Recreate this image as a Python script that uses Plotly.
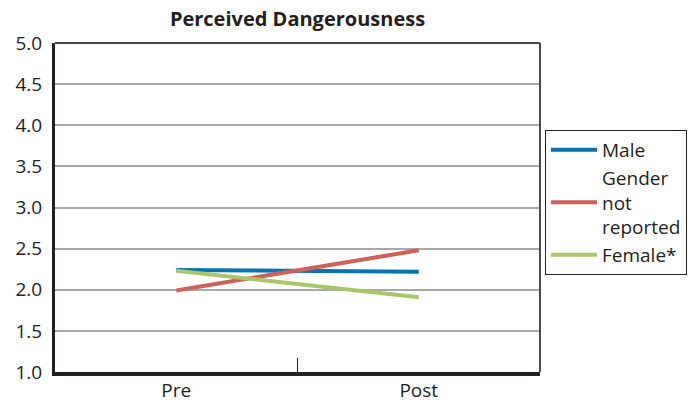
import plotly.graph_objects as go

categories = ["Pre", "Post"]
series_names = ["Male", "Gender<br>not<br>reported", "Female*"]
male = [2.24, 2.22]
not_reported = [1.99, 2.48]
female = [2.23, 1.91]
colors = ["#0a74ae", "#d0605a", "#a9c76a"]
y_ticks = [1.0, 1.5, 2.0, 2.5, 3.0, 3.5, 4.0, 4.5, 5.0]

font = "Open Sans"
fig = go.Figure()
for name, vals, c in zip(series_names, [male, not_reported, female], colors):
    fig.add_trace(go.Scatter(x=categories, y=vals, mode="lines", name=name,
                             line=dict(color=c, width=4)))

fig.update_layout(
    width=699, height=402,
    margin=dict(l=55, r=159, t=43, b=30),
    paper_bgcolor="white", plot_bgcolor="white",
    title=dict(text="<b>Perceived Dangerousness</b>", x=(55 + 540) / 2 / 699, xanchor="center",
               y=1 - 19 / 402, yanchor="middle",
               font=dict(family=font, size=20, color="#231f20")),
    font=dict(family=font, size=19, color="#231f20"),
    legend=dict(x=1.0103, y=0.7356, xanchor="left", yanchor="top",
                bordercolor="#231f20", borderwidth=1, bgcolor="white",
                font=dict(family=font, size=19, color="#231f20"),
                itemwidth=46, tracegroupgap=4),
    showlegend=True,
)
fig.update_xaxes(type="category", range=[-0.5, 1.5], showline=True, linecolor="#231f20",
                 linewidth=4, ticks="inside", tickson="boundaries", ticklen=14,
                 tickcolor="#231f20", tickwidth=1, showgrid=False, ticklabelstandoff=-2,
                 tickfont=dict(size=19), automargin=False)
fig.update_yaxes(range=[1.0, 5.0], tickvals=y_ticks, ticktext=[f"{v:.1f}" for v in y_ticks],
                 showline=True, linecolor="#231f20", linewidth=3, showgrid=True,
                 gridcolor="#a8a8a8", gridwidth=1.5, zeroline=False, ticks="",
                 ticklabelstandoff=6, tickfont=dict(size=19), automargin=False)
fig.add_shape(type="line", xref="paper", yref="paper", x0=0, x1=1, y0=1, y1=1,
              line=dict(color="#4a4a4a", width=2))
fig.add_shape(type="line", xref="paper", yref="paper", x0=1, x1=1, y0=0, y1=1,
              line=dict(color="#4a4a4a", width=2))
fig.write_html("out.html", config={"displayModeBar": False},
               post_script="document.body.style.margin='0';")
